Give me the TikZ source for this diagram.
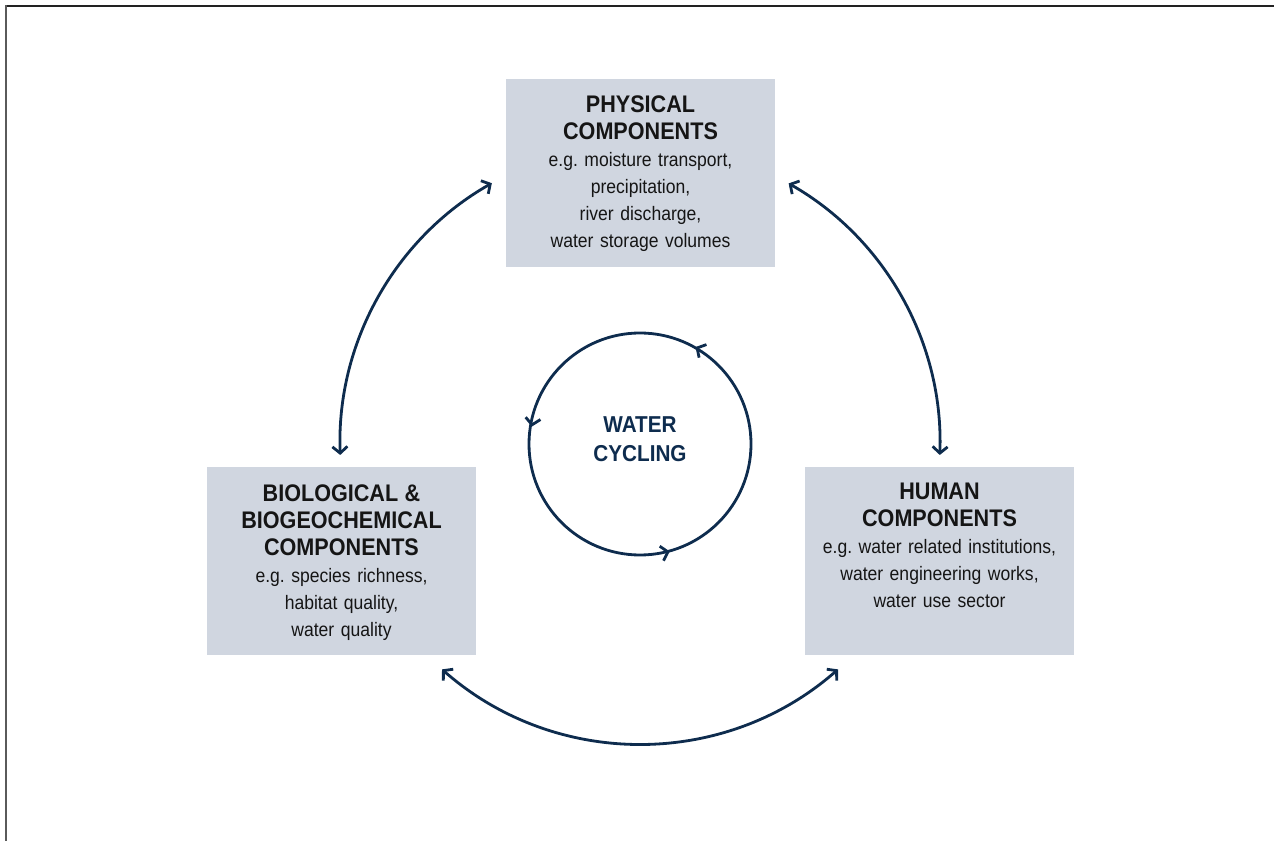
\documentclass[tikz,border=0pt]{standalone}
\usepackage{fontspec}
\newfontfamily\condsans[FakeStretch=0.9]{Liberation Sans}
\usetikzlibrary{arrows.meta,decorations.markings}
\definecolor{navy}{HTML}{0E2C4E}
\definecolor{boxfill}{RGB}{208,214,224}
\definecolor{ink}{HTML}{151515}
\newcommand\comptitle[1]{{\bfseries\fontsize{24}{27}\selectfont #1}}
\frenchspacing
\begin{document}
\begin{tikzpicture}[x=1pt,y=1pt,
  compbox/.style={fill=boxfill, draw=none, minimum width=269pt, minimum height=188pt, inner sep=0pt},
  comptext/.style={anchor=north, text width=262pt, align=center, inner sep=0pt, text=ink,
    font=\condsans\fontsize{19.5}{27}\selectfont},
  barb/.tip={Straight Barb[length=6.5pt,width=15pt]},
  link/.style={draw=navy, line width=2.8pt, barb-barb},
  cycletext/.style={anchor=north, align=center, inner sep=0pt, text=navy,
    font=\condsans\bfseries\fontsize{23}{29}\selectfont}
]
\useasboundingbox (0,0) rectangle (1274,841);
% frame lines
\draw[color={rgb,255:red,34;green,34;blue,34}, line width=1.4pt] (6,835) -- (1274,835);
\draw[color={rgb,255:red,90;green,90;blue,90}, line width=2.2pt] (6,835.7) -- (6,0);

% boxes
\node[compbox] (phys) at (640.5,668) {};
\node[compbox] (bio) at (341.5,279.5) {};
\node[compbox] (hum) at (939.5,279.5) {};

\node[comptext] (physT) at (640.5,745)
  {\comptitle{PHYSICAL\\COMPONENTS}\\e.g. moisture transport,\\precipitation,\\river discharge,\\water storage volumes};
\node[comptext] (bioT) at (341.5,356)
  {\comptitle{BIOLOGICAL \&\\BIOGEOCHEMICAL\\COMPONENTS}\\e.g. species richness,\\habitat quality,\\water quality};
\node[comptext] (humT) at (939.5,358)
  {\comptitle{HUMAN\\COMPONENTS}\\e.g. water related institutions,\\water engineering works,\\water use sector};

% central cycle
\coordinate (c) at (640,397);
\node[circle, draw=navy, line width=2.8pt, minimum size=222pt, inner sep=0pt] (cyc) at (c) {};
\path[navy, line width=2.8pt, postaction={decorate},
  decoration={markings,
    mark=at position 0.169 with {\arrow{barb}},
    mark=at position 0.475 with {\arrow{barb}},
    mark=at position 0.791 with {\arrow{barb}}}]
  (cyc.east) arc[start angle=0, end angle=360, radius=111pt];
\node[cycletext] (wc) at (640,424.5) {WATER\\CYCLING};

% linking arcs
\coordinate (a1s) at ([shift={(119.6:300)}]c);
\coordinate (a2s) at ([shift={(60.3:300)}]c);
\coordinate (a3s) at ([shift={(228.7:300)}]c);
\draw[link] (a1s) arc[start angle=119.6, end angle=182.1, radius=300];
\draw[link] (a2s) arc[start angle=60.3, end angle=-2.1, radius=300];
\draw[link] (a3s) arc[start angle=228.7, end angle=311.3, radius=300];
\end{tikzpicture}
\end{document}
